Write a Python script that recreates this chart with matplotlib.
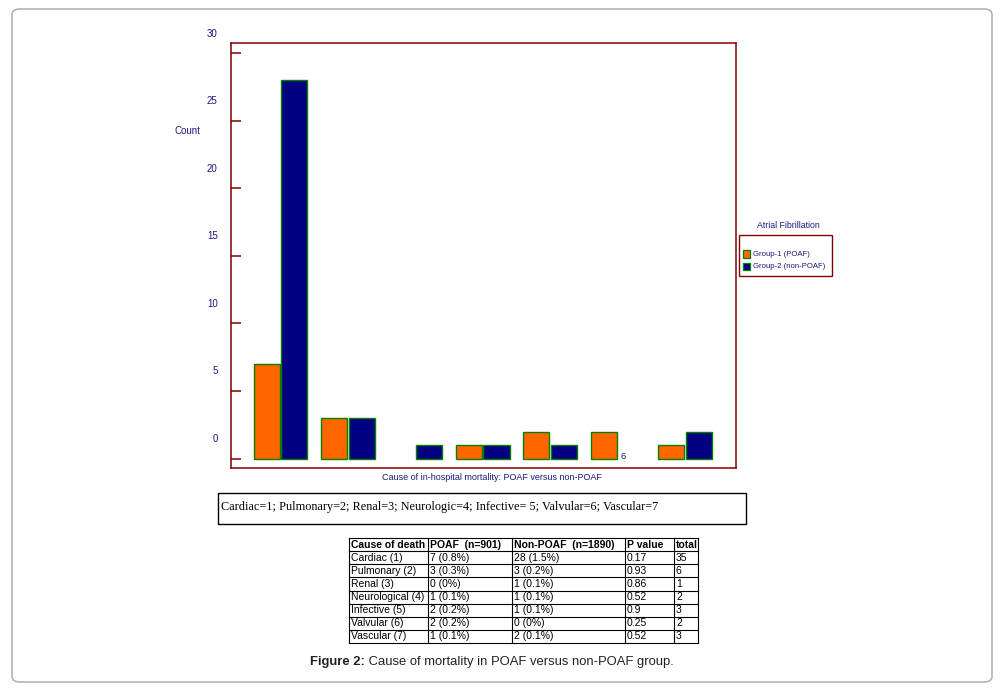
import matplotlib
matplotlib.use('Agg')
import matplotlib.pyplot as plt
import matplotlib.transforms as mtransforms
from matplotlib.patches import Rectangle, FancyBboxPatch
from matplotlib.lines import Line2D

# ---------------- data ----------------
categories = [1, 2, 3, 4, 5, 6, 7]
cat_labels = ['1', '2', '3', '4', '5', '6', '7']
poaf = [7, 3, 0, 1, 2, 2, 1]
nonpoaf = [28, 3, 1, 1, 1, 0, 2]
yticks = [0, 5, 10, 15, 20, 25, 30]
series_names = ['Group-1 (POAF)', 'Group-2 (non-POAF)']
legend_title = 'Atrial Fibrillation'
xlabel = 'Cause of in-hospital mortality: POAF versus non-POAF'
ylabel = 'Count'
key_text = ('Cardiac=1; Pulmonary=2; Renal=3; Neurologic=4; Infective= 5; '
            'Valvular=6; Vascular=7')
table_header = ['Cause of death', 'POAF  (n=901)', 'Non-POAF  (n=1890)', 'P value', 'total']
table_causes = ['Cardiac (1)', 'Pulmonary (2)', 'Renal (3)', 'Neurological (4)',
                'Infective (5)', 'Valvular (6)', 'Vascular (7)']
table_poaf = ['7 (0.8%)', '3 (0.3%)', '0 (0%)', '1 (0.1%)', '2 (0.2%)', '2 (0.2%)', '1 (0.1%)']
table_nonpoaf = ['28 (1.5%)', '3 (0.2%)', '1 (0.1%)', '1 (0.1%)', '1 (0.1%)', '0 (0%)', '2 (0.1%)']
table_p = ['0.17', '0.93', '0.86', '0.52', '0.9', '0.25', '0.52']
table_total = ['35', '6', '1', '2', '3', '2', '3']
caption_bold = 'Figure 2:'
caption_rest = ' Cause of mortality in POAF versus non-POAF group.'

# ---------------- style ----------------
W, H = 1002, 692
plt.rcParams['font.family'] = ['Liberation Sans', 'DejaVu Sans']
ORANGE = '#FF6600'
NAVY = '#000080'
EDGE = '#008000'
MAROON = '#800000'
TXT = '#1a1a80'

fig = plt.figure(figsize=(W / 100, H / 100), dpi=100)


def fx(px):
    return px / W


def fy(py):
    return 1 - py / H


# outer rounded border
fig.patches.append(FancyBboxPatch((fx(12), fy(682)), fx(992) - fx(12), fy(9) - fy(682),
                                  boxstyle='round,pad=0,rounding_size=0.008',
                                  transform=fig.transFigure, fill=False,
                                  edgecolor='#b4b4b4', linewidth=1.2))

# ---------------- chart ----------------
ax_l, ax_r, ax_t, ax_b = 231, 736, 43, 468
ax = fig.add_axes([fx(ax_l), fy(ax_b), fx(ax_r - ax_l), fy(ax_t) - fy(ax_b)])
ax.set_xlim(0.266, 7.757)
ax.set_ylim(-0.70, 30.74)
for s in ax.spines.values():
    s.set_color(MAROON)
    s.set_linewidth(1.1)

off = 0.205
bw = 0.39
# category labels drawn behind bars
for c, lab in zip(categories, cat_labels):
    ax.text(c + 0.08, 0.12, lab, ha='center', va='center', fontsize=6.8,
            color=TXT, zorder=1)

b1 = ax.bar([c - off for c in categories], poaf, width=bw, color=ORANGE,
            edgecolor=EDGE, linewidth=1.0, zorder=3)
b2 = ax.bar([c + off for c in categories], nonpoaf, width=bw, color=NAVY,
            edgecolor=EDGE, linewidth=1.0, zorder=3)
for bars in (b1, b2):
    for p in bars:
        if p.get_height() == 0:
            p.set_visible(False)

ax.set_xticks([])
ax.set_yticks(yticks)
ax.set_yticklabels([str(v) for v in yticks])
ax.tick_params(axis='y', direction='in', length=7.2, width=1.1, color=MAROON,
               labelsize=7, labelcolor=TXT, pad=9.5)
shift = mtransforms.ScaledTranslation(0, 0.205, fig.dpi_scale_trans)
for lab in ax.get_yticklabels():
    lab.set_transform(lab.get_transform() + shift)

fig.text(fx(187), fy(131), ylabel, ha='center', va='center', fontsize=7, color=TXT)
fig.text(fx(492), fy(478), xlabel, ha='center', va='center', fontsize=6.5, color=TXT)

# ---------------- legend (manual) ----------------
fig.text(fx(788), fy(226), legend_title, ha='center', va='center', fontsize=6.3, color=TXT)
fig.patches.append(Rectangle((fx(739), fy(276)), fx(832) - fx(739), fy(235) - fy(276),
                             transform=fig.transFigure, fill=False,
                             edgecolor=MAROON, linewidth=1.0))
for i, (name, col) in enumerate(zip(series_names, [ORANGE, NAVY])):
    yc = 254 + i * 12
    fig.patches.append(Rectangle((fx(743), fy(yc + 3.5)), fx(7), fy(0) - fy(7),
                                 transform=fig.transFigure, facecolor=col,
                                 edgecolor=EDGE, linewidth=0.9))
    fig.text(fx(753), fy(yc), name, ha='left', va='center', fontsize=5.6, color=TXT)

# ---------------- key box ----------------
fig.patches.append(Rectangle((fx(218), fy(524)), fx(746) - fx(218), fy(493) - fy(524),
                             transform=fig.transFigure, fill=False,
                             edgecolor='black', linewidth=1.0))
fig.text(fx(221), fy(507), key_text, ha='left', va='center', fontsize=8.8,
         family=['Liberation Serif', 'DejaVu Serif'], color='black')

# ---------------- table ----------------
col_x = [349, 428, 512, 625, 674, 698]
t_top, t_bot = 538, 643
rows = [table_header] + [list(r) for r in zip(table_causes, table_poaf, table_nonpoaf,
                                             table_p, table_total)]
nrows = len(rows)
rh = (t_bot - t_top) / nrows
lw = 0.8
for i in range(nrows + 1):
    y = t_top + i * rh
    fig.add_artist(Line2D([fx(col_x[0]), fx(col_x[-1])], [fy(y), fy(y)],
                          transform=fig.transFigure, color='black', linewidth=lw))
for x in col_x:
    fig.add_artist(Line2D([fx(x), fx(x)], [fy(t_top), fy(t_bot)],
                          transform=fig.transFigure, color='black', linewidth=lw))
for i, row in enumerate(rows):
    yc = t_top + (i + 0.5) * rh
    for j, cell in enumerate(row):
        fig.text(fx(col_x[j] + 2.0), fy(yc), cell, ha='left', va='center',
                 fontsize=7.5, color='black',
                 fontweight='bold' if i == 0 else 'normal')

# ---------------- caption ----------------
t1 = fig.text(fx(310), fy(668), caption_bold, ha='left', va='bottom', fontsize=9.4,
              fontweight='bold', color='#222222')
ax.annotate(caption_rest, xy=(1, 0), xycoords=t1, ha='left', va='bottom',
            fontsize=9.4, color='#222222', annotation_clip=False)

fig.savefig('out.png', dpi=100)
